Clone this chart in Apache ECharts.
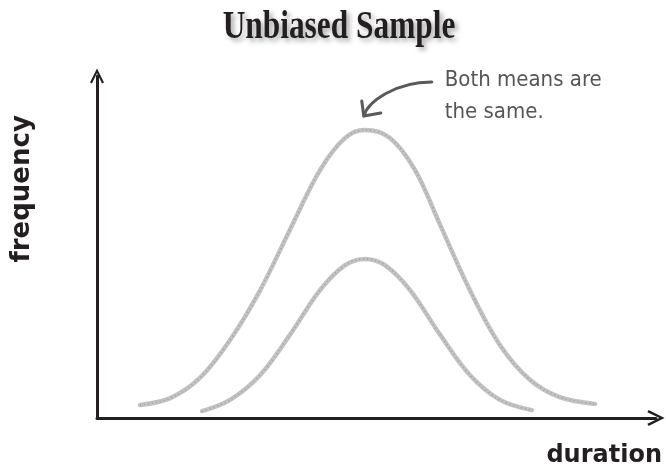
<!DOCTYPE html>
<html>
<head>
<meta charset="utf-8">
<script src="https://cdn.jsdelivr.net/npm/echarts@6/dist/echarts.min.js"></script>
<style>
  html, body { margin: 0; padding: 0; background: #ffffff; }
  #chart { width: 666px; height: 470px; }
</style>
</head>
<body>
<div id="chart"></div>
<script>
// Population curve (wide) and sample curve (narrow), read as duration / frequency pairs
const wideDuration  = [7.7, 13.1, 18.4, 23.8, 29.2, 34.5, 39.9, 44.4, 47.9, 52.4, 56.9, 61.4, 66.7, 72.1, 77.5, 82.8, 89.1];
const wideFrequency = [3.8, 5.8, 11.7, 22.8, 37.4, 55.0, 72.5, 81.9, 84.2, 81.9, 72.5, 56.4, 37.4, 21.3, 11.1, 6.1, 4.1];

const narrowDuration  = [18.8, 23.8, 29.2, 34.5, 39.9, 44.4, 47.9, 51.5, 56.0, 61.4, 66.7, 72.1, 77.8];
const narrowFrequency = [2.0, 5.3, 12.6, 24.3, 37.4, 44.7, 46.5, 44.7, 37.4, 24.3, 12.6, 5.3, 2.3];

const titleText = 'Unbiased Sample';
const xAxisName = 'duration';
const yAxisName = 'frequency';
const noteLines = ['Both means are', 'the same.'];

const pairs = (xs, ys) => xs.map((x, i) => [x, ys[i]]);

// open chevron used as the axis arrowhead
const chevron = 'path://M0,12 L6,0 L12,12 L10.3,12.9 L6,3.9 L1.7,12.9 Z';

const chart = echarts.init(document.getElementById('chart'), null, { renderer: 'canvas' });

function curveSeries(name, data) {
  return [
    {
      name: name,
      type: 'line',
      data: data,
      smooth: 0.35,
      showSymbol: false,
      silent: true,
      lineStyle: { color: '#c2c2c2', width: 4.5, cap: 'round' },
      z: 3
    },
    {
      // speckled overlay for the crayon texture
      name: name + '-grain',
      type: 'line',
      data: data,
      smooth: 0.35,
      showSymbol: false,
      silent: true,
      lineStyle: { color: '#a0a0a0', width: 1.6, type: [1, 3], cap: 'butt' },
      z: 4
    }
  ];
}

const option = {
  animation: false,
  backgroundColor: '#ffffff',
  grid: { left: 97, right: 10, top: 76, bottom: 52 },
  xAxis: {
    type: 'value',
    min: 0,
    max: 100,
    splitLine: { show: false },
    axisTick: { show: false },
    axisLabel: { show: false },
    axisLine: {
      show: true,
      symbol: ['none', chevron],
      symbolSize: [16, 18],
      lineStyle: { color: '#231f20', width: 3 }
    }
  },
  yAxis: {
    type: 'value',
    min: 0,
    max: 100,
    splitLine: { show: false },
    axisTick: { show: false },
    axisLabel: { show: false },
    axisLine: {
      show: true,
      symbol: ['none', chevron],
      symbolSize: [14, 16],
      lineStyle: { color: '#231f20', width: 3 }
    }
  },
  series: [].concat(
    curveSeries('population', pairs(wideDuration, wideFrequency)),
    curveSeries('sample', pairs(narrowDuration, narrowFrequency))
  )
};

chart.setOption(option);

// Title, axis names and the note about the means, placed from the chart's own scales
function placeLabels() {
  const origin = chart.convertToPixel({ gridIndex: 0 }, [0, 0]);
  const xEnd = chart.convertToPixel({ gridIndex: 0 }, [100, 0]);
  const yMid = chart.convertToPixel({ gridIndex: 0 }, [0, 67]);

  const peakIdx = wideFrequency.indexOf(Math.max(...wideFrequency));
  const peak = chart.convertToPixel({ gridIndex: 0 }, [wideDuration[peakIdx], wideFrequency[peakIdx]]);

  const tip = [peak[0] - 1, peak[1] - 14];
  const noteX = peak[0] + 80;
  const noteY = peak[1] - 34;

  chart.setOption({
    graphic: [
      {
        type: 'text',
        x: 339,
        y: 28,
        scaleX: 0.98,
        scaleY: 1.22,
        style: {
          text: titleText,
          font: 'bold 32px "Liberation Serif", "DejaVu Serif", serif',
          fill: '#231f20',
          textAlign: 'center',
          textVerticalAlign: 'middle',
          textShadowColor: 'rgba(0,0,0,0.35)',
          textShadowBlur: 5,
          textShadowOffsetX: 3,
          textShadowOffsetY: 3
        }
      },
      {
        type: 'text',
        x: origin[0] - 75,
        y: yMid[1],
        rotation: Math.PI / 2,
        style: {
          text: yAxisName,
          font: 'bold 26px "DejaVu Sans", sans-serif',
          fill: '#231f20',
          textAlign: 'center',
          textVerticalAlign: 'middle'
        }
      },
      {
        type: 'text',
        x: xEnd[0] + 6,
        y: origin[1] + 38,
        style: {
          text: xAxisName,
          font: 'bold 24px "DejaVu Sans", sans-serif',
          fill: '#231f20',
          textAlign: 'right',
          textVerticalAlign: 'middle'
        }
      },
      {
        type: 'text',
        x: noteX,
        y: noteY,
        style: {
          text: noteLines.join('\n'),
          font: '22px "DejaVu Sans Condensed", "DejaVu Sans", sans-serif',
          lineHeight: 32,
          fill: '#555555',
          textAlign: 'left',
          textVerticalAlign: 'middle'
        }
      },
      {
        type: 'bezierCurve',
        shape: {
          x1: noteX - 13, y1: noteY - 14,
          cpx1: noteX - 50, cpy1: noteY - 14,
          cpx2: tip[0] + 4, cpy2: tip[1] - 14,
          x2: tip[0], y2: tip[1]
        },
        style: { stroke: '#5a5a5a', lineWidth: 3, fill: null, lineCap: 'round' }
      },
      {
        type: 'polyline',
        shape: {
          points: [[tip[0] - 2, tip[1] - 15], [tip[0], tip[1]], [tip[0] + 17, tip[1] - 3]]
        },
        style: { stroke: '#5a5a5a', lineWidth: 3, fill: null, lineCap: 'round', lineJoin: 'round' }
      }
    ]
  });
}

placeLabels();
</script>
</body>
</html>
